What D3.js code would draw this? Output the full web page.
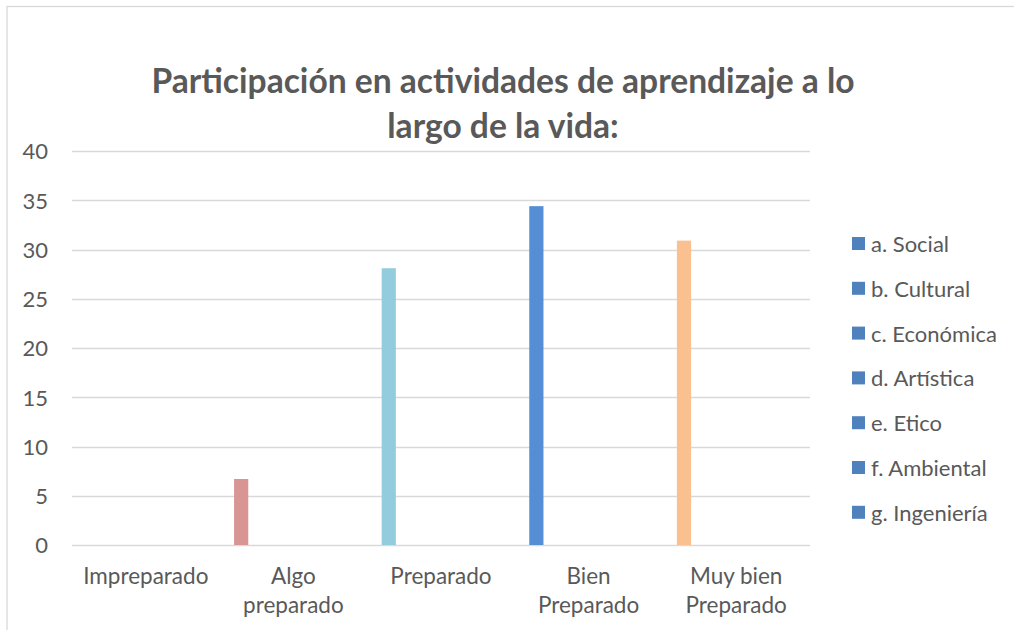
<!DOCTYPE html>
<html>
<head>
<meta charset="utf-8">
<script src="https://cdn.jsdelivr.net/npm/d3@7/dist/d3.min.js"></script>
<style>
  html, body { margin: 0; padding: 0; background: #fff; }
  svg { display: block; }
  text { font-family: Lato, "Open Sans", sans-serif; fill: #595959; }
</style>
</head>
<body>
<svg id="chart" width="1014" height="630"></svg>
<script>
const titleLines = ["Participación en actividades de aprendizaje a lo", "largo de la vida:"];
const categories = ["Impreparado", "Algo preparado", "Preparado", "Bien Preparado", "Muy bien Preparado"];
const categoryLines = [["Impreparado"], ["Algo", "preparado"], ["Preparado"], ["Bien", "Preparado"], ["Muy bien", "Preparado"]];
const seriesNames = ["a. Social", "b. Cultural", "c. Económica", "d. Artística", "e. Etico", "f. Ambiental", "g. Ingeniería"];
const socialValues    = [0, 6.7, 28.1, 34.4, 30.9];
const culturalValues  = [0, 0, 0, 0, 0];
const economicaValues = [0, 0, 0, 0, 0];
const artisticaValues = [0, 0, 0, 0, 0];
const eticoValues     = [0, 0, 0, 0, 0];
const ambientalValues = [0, 0, 0, 0, 0];
const ingenieriaValues= [0, 0, 0, 0, 0];
const yTicks = [0, 5, 10, 15, 20, 25, 30, 35, 40];
const pointColors = ["#8EB4E3", "#D99594", "#93CDDD", "#558ED5", "#FAC090"];
const legendColor = "#4F81BD";

const seriesValues = [socialValues, culturalValues, economicaValues, artisticaValues, eticoValues, ambientalValues, ingenieriaValues];

const svg = d3.select("#chart");

// chart border (only top and left visible in frame)
svg.append("rect").attr("x", 7).attr("y", 6.5).attr("width", 1020).attr("height", 640)
  .attr("fill", "#fff").attr("stroke", "#D9D9D9").attr("stroke-width", 1.3);

// title
svg.append("g").selectAll("text").data(titleLines).join("text")
  .attr("x", 503).attr("y", (d, i) => 93 + i * 45)
  .attr("text-anchor", "middle")
  .style("font-weight", "bold").style("font-size", "33.6px")
  .text(d => d);

const plot = { left: 72, right: 810, top: 151, bottom: 545 };

const x0 = d3.scaleBand().domain(categories).range([plot.left, plot.right]).paddingInner(0).paddingOuter(0);
const cw = x0.bandwidth();
const x1 = d3.scaleBand().domain(seriesNames).range([cw * 0.098, cw * 0.098 + 7 * 14.2]).padding(0);
const y = d3.scaleLinear().domain([0, 40]).range([plot.bottom, plot.top]);

// gridlines
svg.append("g").selectAll("line").data(yTicks).join("line")
  .attr("x1", plot.left).attr("x2", plot.right)
  .attr("y1", d => Math.round(y(d)) + 0.5).attr("y2", d => Math.round(y(d)) + 0.5)
  .attr("stroke", "#D9D9D9").attr("stroke-width", 1.4);

// y axis labels
const yAxis = d3.axisLeft(y).tickValues(yTicks).tickSize(0).tickPadding(0);
const yg = svg.append("g").attr("transform", `translate(${48},0)`).call(yAxis);
yg.select(".domain").remove();
yg.selectAll("text").style("font-size", "22px").attr("fill", "#595959").attr("dy", "0.36em")
  .style("font-family", "Lato, 'Open Sans', sans-serif");

// bars
const barData = [];
seriesValues.forEach((vals, si) => vals.forEach((v, ci) => barData.push({ s: seriesNames[si], c: categories[ci], ci, v })));
svg.append("g").selectAll("rect").data(barData.filter(d => d.v > 0)).join("rect")
  .attr("x", d => x0(d.c) + x1(d.s))
  .attr("width", x1.bandwidth())
  .attr("y", d => y(d.v))
  .attr("height", d => y(0) - y(d.v))
  .attr("fill", d => pointColors[d.ci]);

// x labels
const xl = svg.append("g");
categories.forEach((c, i) => {
  const t = xl.append("text").attr("text-anchor", "middle").style("font-size", "22.5px")
    .attr("x", x0(c) + cw / 2);
  categoryLines[i].forEach((ln, j) => {
    t.append("tspan").attr("x", x0(c) + cw / 2).attr("y", 584 + j * 28.5).text(ln);
  });
});

// legend
const lg = svg.append("g").selectAll("g").data(seriesNames).join("g")
  .attr("transform", (d, i) => `translate(852,${244 + i * 44.8})`);
lg.append("rect").attr("x", 0).attr("y", -7).attr("width", 13).attr("height", 13).attr("fill", legendColor);
lg.append("text").attr("x", 19).attr("y", 0).attr("dy", "0.36em").style("font-size", "22px").text(d => d);
</script>
</body>
</html>
